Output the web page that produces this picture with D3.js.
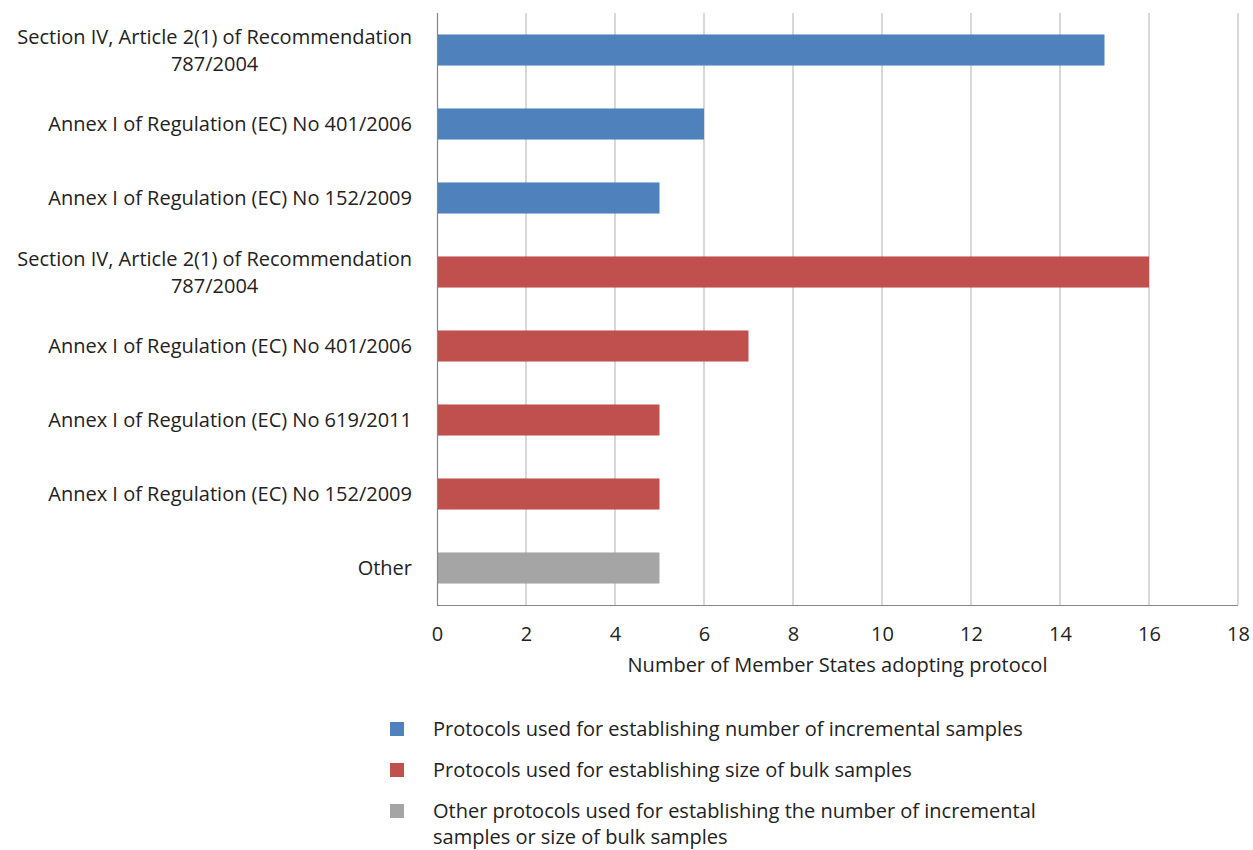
<!DOCTYPE html>
<html>
<head>
<meta charset="utf-8">
<script src="https://cdn.jsdelivr.net/npm/d3@7"></script>
<style>
  html, body { margin: 0; padding: 0; background: #fff; }
  svg text { font-family: "Open Sans", "Noto Sans", sans-serif; fill: #222; }
</style>
</head>
<body>
<svg id="chart" width="1253" height="850"></svg>
<script>
// Protocol labels (top to bottom), split into display lines
const categories = [
  ["Section IV, Article 2(1) of Recommendation", "787/2004"],
  ["Annex I of Regulation (EC) No 401/2006"],
  ["Annex I of Regulation (EC) No 152/2009"],
  ["Section IV, Article 2(1) of Recommendation", "787/2004"],
  ["Annex I of Regulation (EC) No 401/2006"],
  ["Annex I of Regulation (EC) No 619/2011"],
  ["Annex I of Regulation (EC) No 152/2009"],
  ["Other"]
];
const values = [15, 6, 5, 16, 7, 5, 5, 5];
const groups = ["incremental", "incremental", "incremental", "bulk", "bulk", "bulk", "bulk", "other"];
const xTicks = [0, 2, 4, 6, 8, 10, 12, 14, 16, 18];
const axisTitle = "Number of Member States adopting protocol";
const legendKeys = ["incremental", "bulk", "other"];
const legendLabels = [
  ["Protocols used for establishing number of incremental samples"],
  ["Protocols used for establishing size of bulk samples"],
  ["Other protocols used for establishing the number of incremental", "samples or size of bulk samples"]
];

const colors = { incremental: "#4F81BD", bulk: "#C0504D", other: "#A5A5A5" };

const svg = d3.select("#chart");
const plot = { left: 437, right: 1238, top: 13, bottom: 605 };
const fontSize = 20;

const x = d3.scaleLinear().domain([0, 18]).range([plot.left, plot.right]);
const y = d3.scaleBand().domain(d3.range(categories.length))
  .range([plot.top, plot.bottom]).paddingInner(0.58).paddingOuter(0.29);

// vertical gridlines
svg.append("g").selectAll("line").data(xTicks.filter(t => t > 0)).join("line")
  .attr("x1", d => x(d)).attr("x2", d => x(d))
  .attr("y1", plot.top).attr("y2", plot.bottom)
  .attr("stroke", "#BEBEBE").attr("stroke-width", 1.2);

// bars
svg.append("g").selectAll("rect").data(values).join("rect")
  .attr("x", x(0))
  .attr("y", (d, i) => y(i))
  .attr("width", d => x(d) - x(0))
  .attr("height", y.bandwidth())
  .attr("fill", (d, i) => colors[groups[i]]);

// axes lines
svg.append("line").attr("x1", plot.left + 0.5).attr("x2", plot.left + 0.5)
  .attr("y1", plot.top).attr("y2", plot.bottom).attr("stroke", "#868686").attr("stroke-width", 1.2);
svg.append("line").attr("x1", plot.left).attr("x2", plot.right)
  .attr("y1", plot.bottom + 0.5).attr("y2", plot.bottom + 0.5).attr("stroke", "#868686").attr("stroke-width", 1.2);

// x tick labels
const xAxis = d3.axisBottom(x).tickValues(xTicks).tickSize(0).tickPadding(0).tickFormat(d3.format("d"));
const gx = svg.append("g").attr("transform", `translate(0,${plot.bottom})`).call(xAxis);
gx.select(".domain").remove();
gx.selectAll("text").attr("font-size", fontSize).attr("dy", null).attr("y", 36)
  .style("font-family", '"Open Sans", "Noto Sans", sans-serif').attr("fill", "#222");

svg.append("text").attr("x", (plot.left + plot.right) / 2).attr("y", 672)
  .attr("text-anchor", "middle").attr("font-size", fontSize).text(axisTitle);

// category labels, multi-line entries centred on their first line
const labelRight = 412;
const lineH = 27;
categories.forEach((lines, i) => {
  const cy = y(i) + y.bandwidth() / 2;
  const g = svg.append("g");
  const first = g.append("text").attr("font-size", fontSize).text(lines[0]);
  const w = first.node().getComputedTextLength();
  const startY = cy - (lines.length - 1) * lineH / 2 + 7;
  if (lines.length === 1) {
    first.attr("x", labelRight).attr("y", startY).attr("text-anchor", "end");
  } else {
    const cx = labelRight - w / 2;
    first.attr("x", cx).attr("y", startY).attr("text-anchor", "middle");
    lines.slice(1).forEach((ln, k) => {
      g.append("text").attr("font-size", fontSize).attr("x", cx)
        .attr("y", startY + (k + 1) * lineH).attr("text-anchor", "middle").text(ln);
    });
  }
});

// legend
const legendRowY = [729, 770, 811];
legendKeys.forEach((k, i) => {
  const ly = legendRowY[i];
  svg.append("rect").attr("x", 390).attr("y", ly - 7).attr("width", 14).attr("height", 14)
    .attr("fill", colors[k]);
  legendLabels[i].forEach((ln, j) => {
    svg.append("text").attr("x", 433).attr("y", ly + 7 + j * 26)
      .attr("font-size", fontSize).text(ln);
  });
});
</script>
</body>
</html>
